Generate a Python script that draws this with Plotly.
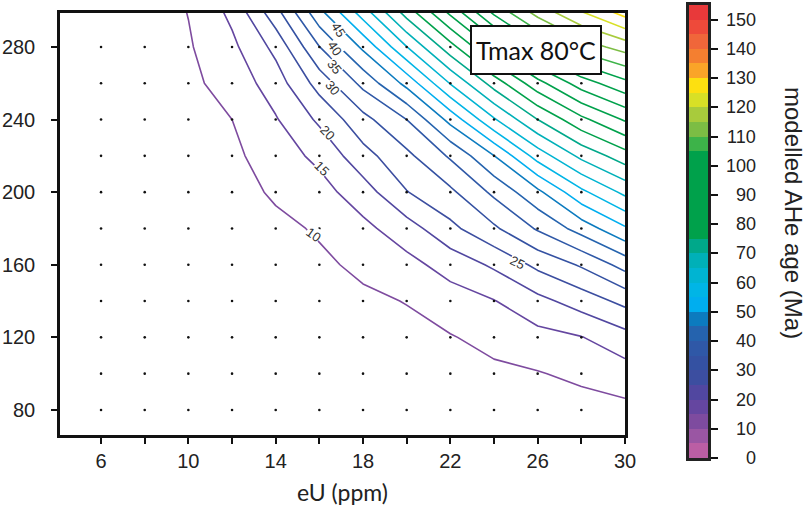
import plotly.graph_objects as go

# ---------------- data ----------------
eu_grid = [4, 6, 8, 10, 12, 14, 16, 18, 20, 22, 24, 26, 28, 30]
y_grid = [60, 80, 100, 120, 140, 160, 180, 200, 220, 240, 260, 280, 300]

# modelled AHe age (Ma), one row per y value (eU columns as eu_grid)
age_y060 = [4.3, 4.5, 4.7, 4.8, 4.9, 5.1, 5.3, 5.5, 5.5, 5.5, 5.5, 5.5, 5.5, 5.5]
age_y080 = [4.4, 4.6, 4.9, 5.1, 5.3, 5.6, 6.0, 6.5, 6.8, 7.0, 7.3, 7.5, 8.0, 8.7]
age_y100 = [4.5, 4.8, 5.1, 5.5, 5.7, 6.2, 6.8, 7.3, 7.8, 8.4, 9.0, 9.7, 11.1, 12.76]
age_y120 = [4.6, 5.0, 5.3, 5.8, 6.1, 6.8, 7.6, 8.2, 8.8, 9.7, 11.5, 13.4, 14.8, 18.15]
age_y140 = [4.7, 5.2, 5.5, 6.2, 6.5, 7.4, 8.4, 9.2, 10.15, 12.7, 14.8, 18.5, 22.25, 26.4]
age_y160 = [4.8, 5.4, 5.7, 6.6, 7.0, 8.1, 9.2, 10.9, 13.4, 17.0, 20.8, 26.2, 30.6, 36.9]
age_y180 = [4.9, 5.5, 5.9, 7.0, 7.6, 8.9, 10.5, 13.7, 17.8, 23.7, 29.2, 35.6, 42.1, 49.3]
age_y200 = [5.0, 5.7, 6.1, 7.4, 8.2, 10.65, 13.1, 17.7, 24.8, 29.0, 36.1, 43.8, 53.8, 61.25]
age_y220 = [5.1, 5.9, 6.3, 7.9, 8.9, 12.6, 16.2, 23.2, 28.8, 35.7, 44.9, 57.2, 66.3, 72.8]
age_y240 = [5.2, 6.0, 6.5, 8.4, 10.0, 14.6, 20.9, 28.4, 35.0, 46.6, 59.4, 70.0, 78.7, 85.6]
age_y260 = [5.3, 6.2, 6.7, 8.9, 11.9, 17.5, 27.0, 36.4, 46.5, 60.3, 72.2, 83.2, 92.5, 98.6]
age_y280 = [5.4, 6.3, 6.9, 9.5, 13.85, 21.4, 34.9, 46.0, 59.9, 73.1, 86.3, 98.7, 107.3, 112.1]
age_y300 = [5.5, 6.5, 7.0, 10.16, 16.3, 28.5, 44.0, 58.0, 72.7, 86.8, 101.8, 112.5, 120.3, 127.7]

# model sample points (dots)
dot_eu = [6, 8, 10, 12, 14, 16, 18, 20, 22, 24, 26, 28]
dot_y = [80, 100, 120, 140, 160, 180, 200, 220, 240, 260, 280]

# contour labels
label_levels = [10, 15, 20, 25, 30, 35, 40, 45]
label_eu = [15.71, 16.12, 16.35, 25.06, 16.58, 16.67, 16.72, 16.86]
label_y = [176.4, 213.3, 232.6, 161.0, 257.4, 269.0, 279.4, 289.4]
label_angle = [35, 45, 45, 25, 50, 52, 55, 58]

# colour bands of the age scale (0-5, 5-10, ... 150-155 Ma)
band_lows = list(range(0, 155, 5))
band_colors = [
    "#bb5ea4", "#9a56a3", "#7e4b9f", "#6546a0", "#5147a0", "#3c4ea0",
    "#3451a2", "#2f58a7", "#2563ae", "#0c7bbf", "#00aeef", "#00b5e6",
    "#00b4d2", "#00b0b8", "#00a88a", "#00a14b", "#00a14b", "#00a14b",
    "#00a14b", "#00a14b", "#00a14b", "#3db349", "#7cbd44", "#a8cb3c",
    "#d8e026", "#fde010", "#faa428", "#f47f30", "#f0663a", "#ee4a3a",
    "#e8393a",
]
cbar_ticks = list(range(0, 151, 10))

x_ticks = [6, 10, 14, 18, 22, 26, 30]
x_minor = [8, 12, 16, 20, 24, 28]
y_ticks = [80, 120, 160, 200, 240, 280]

# ---------------- figure ----------------
age_rows = [age_y060, age_y080, age_y100, age_y120, age_y140, age_y160, age_y180,
            age_y200, age_y220, age_y240, age_y260, age_y280, age_y300]

lv_start, lv_end, lv_size = 10, 150, 5
levels = list(range(lv_start, lv_end + 1, lv_size))
line_scale = [[(L - lv_start) / (lv_end - lv_start), band_colors[L // 5]] for L in levels]

TICKFONT = dict(family="Liberation Sans, Arial, sans-serif", size=20, color="#222")
CBFONT = dict(family="Liberation Sans, Arial, sans-serif", size=18, color="#222")

fig = go.Figure()

fig.add_trace(go.Contour(
    x=eu_grid, y=y_grid, z=age_rows,
    autocontour=False,
    contours=dict(start=lv_start, end=lv_end, size=lv_size, coloring="lines", showlabels=False),
    colorscale=line_scale, showscale=False,
    line=dict(width=1.6, smoothing=0),
    hoverinfo="skip",
))

dx, dy = [], []
for yv in dot_y:
    for xv in dot_eu:
        dx.append(xv)
        dy.append(yv)
fig.add_trace(go.Scatter(x=dx, y=dy, mode="markers",
                         marker=dict(size=2.6, color="#111"), hoverinfo="skip",
                         showlegend=False))

# colour scale bar
bar_scale = [[k / (len(band_colors) - 1), c] for k, c in enumerate(band_colors)]
fig.add_trace(go.Heatmap(
    x=[0], y=[b + 2.5 for b in band_lows], z=[[b] for b in band_lows],
    colorscale=bar_scale, zmin=band_lows[0], zmax=band_lows[-1],
    showscale=False, xaxis="x2", yaxis="y2", hoverinfo="skip",
))

W, H = 809, 508
ml, mr, mt, mb = 60, 40, 2, 48
pw = W - ml - mr
ph = H - mt - mb


def px_x(p):
    return (p - ml) / pw


def px_y(p):
    return (H - mb - p) / ph


annotations = []
for lv, xv, yv, ang in zip(label_levels, label_eu, label_y, label_angle):
    annotations.append(dict(
        x=xv, y=yv, xref="x", yref="y", text=str(lv), showarrow=False,
        xanchor="center", yanchor="middle",
        textangle=ang, bgcolor="white", borderpad=0,
        font=dict(family="Liberation Sans, Arial, sans-serif", size=13, color="#333"),
    ))

annotations.append(dict(
    x=px_x(535.5), y=px_y(50), xref="paper", yref="paper", text="Tmax 80°C",
    xanchor="center", yanchor="middle",
    showarrow=False, bgcolor="white", bordercolor="#111", borderwidth=2,
    borderpad=0, width=128, height=46,
    font=dict(family="Lato, Open Sans, sans-serif", size=25, color="#111"),
))

for t in cbar_ticks:
    annotations.append(dict(
        x=px_x(758), y=t, xref="paper", yref="y2", text=str(t), showarrow=False,
        xanchor="right", yanchor="middle", font=CBFONT,
    ))

annotations.append(dict(
    x=px_x(794), y=px_y(213), xref="paper", yref="paper",
    text="modelled AHe age (Ma)", textangle=90, showarrow=False,
    xanchor="center", yanchor="middle",
    font=dict(family="Liberation Sans, Arial, sans-serif", size=24, color="#222"),
))

fig.update_layout(
    width=W, height=H,
    margin=dict(l=ml, r=mr, t=mt, b=mb, autoexpand=False),
    paper_bgcolor="white", plot_bgcolor="white",
    showlegend=False,
    xaxis=dict(
        domain=[0, px_x(625)], range=[4.12, 30], automargin=False,
        tickvals=x_ticks, ticks="outside", ticklen=6, tickwidth=1.5, tickcolor="#111",
        minor=dict(tickvals=x_minor, ticks="outside", ticklen=6, tickwidth=1.5, tickcolor="#111"),
        showline=True, linewidth=3, linecolor="#111", mirror=True,
        showgrid=False, zeroline=False, tickfont=TICKFONT,
        title=dict(text="eU (ppm)", standoff=14,
                   font=dict(family="Lato, Open Sans, sans-serif", size=23, color="#222")),
    ),
    yaxis=dict(
        domain=[px_y(435), px_y(13)], range=[66.2, 298.7], automargin=False,
        tickvals=y_ticks, ticks="outside", ticklen=6, tickwidth=1.5, tickcolor="#111",
        ticklabelstandoff=12,
        showline=True, linewidth=2.5, linecolor="#111", mirror=True,
        showgrid=False, zeroline=False, tickfont=TICKFONT,
    ),
    xaxis2=dict(
        domain=[px_x(689), px_x(708)], anchor="y2", range=[-0.5, 0.5], automargin=False,
        showticklabels=False, ticks="", showline=True, linewidth=3,
        linecolor="#222", mirror=True, showgrid=False, zeroline=False,
    ),
    yaxis2=dict(
        domain=[px_y(458), px_y(5)], anchor="x2", range=[0, 155], side="right",
        automargin=False,
        tickvals=cbar_ticks, ticks="outside", ticklen=7, tickwidth=1.5, tickcolor="#111",
        showticklabels=False, showline=True, linewidth=3, linecolor="#222",
        mirror=True, showgrid=False, zeroline=False,
    ),
    annotations=annotations,
)

fig.write_html(
    "out.html",
    config={"displayModeBar": False},
    post_script="document.body.style.margin='0px';document.body.style.overflow='hidden';",
)
